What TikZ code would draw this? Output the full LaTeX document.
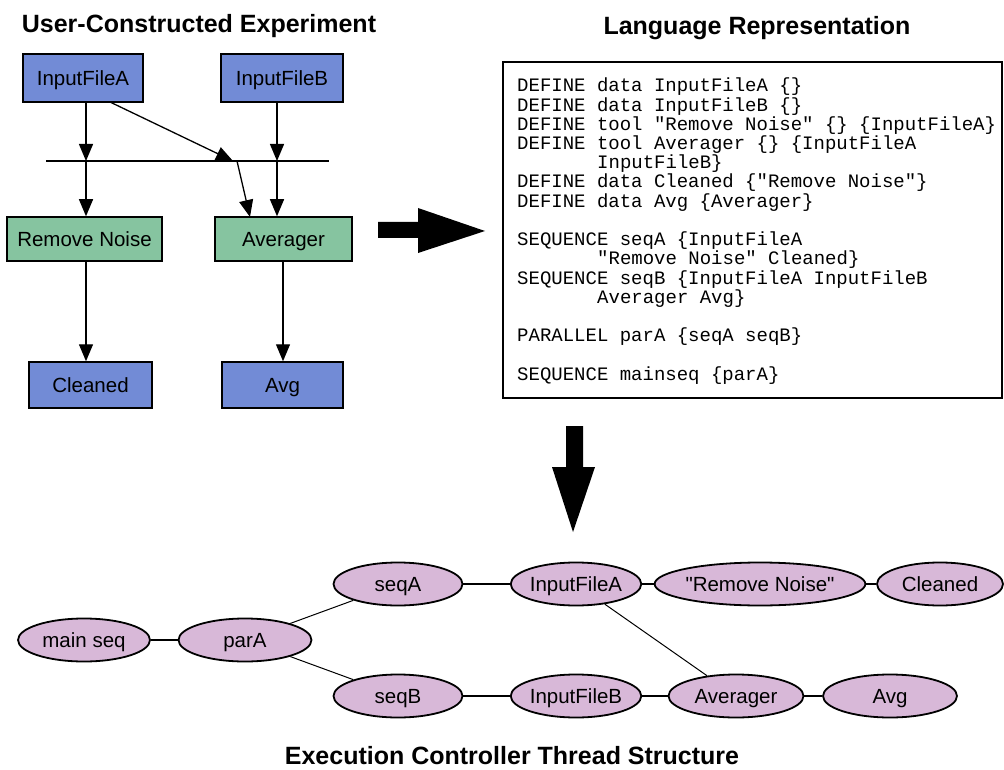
\documentclass[tikz,border=0pt]{standalone}
\usepackage{fontspec}
\setmainfont{Liberation Sans}
\newfontfamily\codefont{Liberation Mono}
\newfontfamily\qfont{Liberation Sans}
\usetikzlibrary{shapes.geometric,arrows.meta}
\definecolor{boxblue}{RGB}{114,139,214}
\definecolor{boxgreen}{RGB}{134,196,160}
\definecolor{ellpurple}{RGB}{216,184,216}
\tikzset{
  databox/.style={draw=black,line width=1.5pt,fill=boxblue,inner sep=0pt,text height=14.7pt,text depth=0pt,font=\fontsize{20.5}{22}\selectfont},
  toolbox/.style={draw=black,line width=1.5pt,fill=boxgreen,inner sep=0pt,text height=14.7pt,text depth=0pt,font=\fontsize{20.5}{22}\selectfont},
  thr/.style={ellipse,draw=black,line width=1.8pt,fill=ellpurple,inner sep=0pt,minimum height=43pt,text height=14.7pt,text depth=0pt,font=\fontsize{20.5}{22}\selectfont},
  arr/.style={line width=1.3pt,-{Triangle[length=17pt,width=14pt]}},
  lnk/.style={line width=1.4pt},
  ttl/.style={anchor=base,font=\bfseries\fontsize{25}{28}\selectfont},
  codeline/.style={anchor=base west,inner sep=0pt,font=\codefont\fontsize{19}{19.2}\selectfont},
  bigarrow/.style={fill=black,draw=none}
}
\begin{document}
\begin{tikzpicture}[x=1pt,y=-1pt]
\useasboundingbox (0,0) rectangle (1004,770);

% titles
\node[ttl] (t1) at (199,33) {User-Constructed Experiment};
\node[ttl] (t2) at (757,35) {Language Representation};
\node[ttl] (t3) at (512,764) {Execution Controller Thread Structure};

% top-left experiment
\node[databox,minimum width=120pt,minimum height=48pt] (ifa) at (83,78) {InputFileA};
\node[databox,minimum width=122pt,minimum height=48pt] (ifb) at (282,78) {InputFileB};
\node[toolbox,minimum width=155pt,minimum height=44pt] (rn) at (84.5,239) {Remove Noise};
\node[toolbox,minimum width=137pt,minimum height=44pt] (av) at (283.5,239) {Averager};
\node[databox,minimum width=123pt,minimum height=46pt] (cl) at (90.5,385) {Cleaned};
\node[databox,minimum width=121pt,minimum height=46pt] (ag) at (282.5,385) {Avg};

\coordinate (barL) at (46,161);
\coordinate (barR) at (329,161);
\draw[line width=1.3pt] (barL) -- (barR);

\coordinate (bA) at (86,161);
\coordinate (bB) at (277,161);
\coordinate (dS) at (110,102);
\coordinate (dE) at (233,161);
\coordinate (dS2) at (237,161);
\coordinate (dE2) at (250,217);

\draw[arr] (bA |- ifa.south) -- (bA);
\draw[arr] (bA) -- (bA |- rn.north);
\draw[arr] (bB |- ifb.south) -- (bB);
\draw[arr] (bB) -- (bB |- av.north);
\draw[arr] (dS) -- (dE);
\draw[arr] (dS2) -- (dE2);
\draw[arr] (bA |- rn.south) -- (bA |- cl.north);
\draw[arr] (283,261) coordinate (avs) -- (avs |- ag.north);

% big arrows
\fill[bigarrow] (378,222) -- (418,222) -- (418,208) -- (485,231) -- (418,253) -- (418,238) -- (378,238) -- cycle;
\fill[bigarrow] (566,426) -- (583,426) -- (583,467) -- (595,467) -- (573,532) -- (552,467) -- (566,467) -- cycle;

% code box
\draw[line width=1.5pt] (503,62) rectangle (1002,398);
\node[codeline] (c1) at (517,92) {DEFINE data InputFileA \{\}};
\node[codeline] (c2) at (517,111.2) {DEFINE data InputFileB \{\}};
\node[codeline] (c3) at (517,130.4) {DEFINE tool "Remove Noise" \{\} \{InputFileA\}};
\node[codeline] (c4) at (517,149.6) {DEFINE tool Averager \{\} \{InputFileA};
\node[codeline] (c5) at (597,168.8) {InputFileB\}};
\node[codeline] (c6) at (517,188) {DEFINE data Cleaned \{"Remove Noise"\}};
\node[codeline] (c7) at (517,207.2) {DEFINE data Avg \{Averager\}};
\node[codeline] (c8) at (517,245.6) {SEQUENCE seqA \{InputFileA};
\node[codeline] (c9) at (597,264.8) {"Remove Noise" Cleaned\}};
\node[codeline] (c10) at (517,284) {SEQUENCE seqB \{InputFileA InputFileB};
\node[codeline] (c11) at (597,303.2) {Averager Avg\}};
\node[codeline] (c12) at (517,341.6) {PARALLEL parA \{seqA seqB\}};
\node[codeline] (c13) at (517,380) {SEQUENCE mainseq \{parA\}};

% thread structure
\node[thr,minimum width=132pt] (ms) at (84,640) {main seq};
\node[thr,minimum width=133pt] (pa) at (245,640) {parA};
\node[thr,minimum width=129pt] (sa) at (398,584) {seqA};
\node[thr,minimum width=129pt] (sb) at (398,696) {seqB};
\node[thr,minimum width=129pt] (fa) at (576,584) {InputFileA};
\node[thr,minimum width=130pt] (fb) at (576,696) {InputFileB};
\node[thr,minimum width=203pt] (rn2) at (760,584) {\qfont"Remove Noise"};
\node[thr,minimum width=126pt] (cl2) at (940,584) {Cleaned};
\node[thr,minimum width=135pt] (av2) at (736,696) {Averager};
\node[thr,minimum width=134pt] (ag2) at (890,696) {Avg};

\draw[lnk] (ms) -- (pa);
\draw[line width=1pt] (pa) -- (sa);
\draw[line width=1pt] (pa) -- (sb);
\draw[lnk] (sa) -- (fa);
\draw[lnk] (fa) -- (rn2);
\draw[lnk] (rn2) -- (cl2);
\draw[lnk] (sb) -- (fb);
\draw[lnk] (fb) -- (av2);
\draw[lnk] (av2) -- (ag2);
\draw[line width=1pt] (fa) -- (av2);
\end{tikzpicture}
\end{document}
